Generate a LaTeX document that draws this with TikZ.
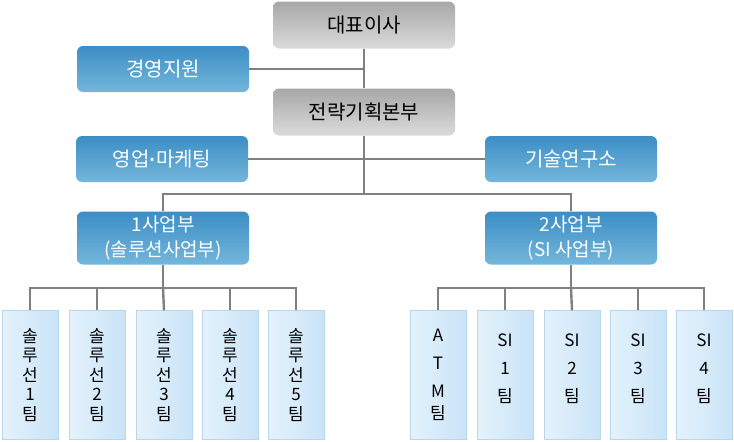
\documentclass[tikz,border=0pt]{standalone}
\usepackage{fontspec}
\setmainfont{Noto Sans CJK KR}
\newfontfamily\dotfont{Liberation Sans}
\definecolor{graytop}{HTML}{A7A7A7}
\definecolor{graybot}{HTML}{DBDBDB}
\definecolor{bluetop}{HTML}{3C8EC5}
\definecolor{bluebot}{HTML}{74B6DB}
\definecolor{teamleft}{HTML}{E4F2FC}
\definecolor{teamright}{HTML}{C9E4F7}
\definecolor{teamedge}{HTML}{B9D7EC}
\definecolor{wire}{HTML}{808080}
\tikzset{
  graybox/.style={rounded corners=6pt, top color=graytop, bottom color=graybot,
    minimum width=182pt, minimum height=47pt, font=\fontsize{20}{24}\selectfont},
  bluebox/.style={rounded corners=6pt, top color=bluetop, bottom color=bluebot, text=white,
    minimum width=172pt, minimum height=46pt, font=\fontsize{20}{24}\selectfont},
  divbox/.style={bluebox, minimum height=53pt, align=center, font=\fontsize{19}{25}\selectfont},
  teambox/.style={draw=teamedge, left color=teamleft, right color=teamright, align=center,
    minimum width=56pt, minimum height=129pt, inner sep=0pt, font=\fontsize{17}{19.5}\selectfont},
  siteam/.style={teambox, font=\fontsize{17}{28}\selectfont},
  wires/.style={draw=wire, line width=2.4pt}
}
\begin{document}
\begin{tikzpicture}[x=1pt, y=-1pt]
\useasboundingbox (0,0) rectangle (734,442);
\node[graybox] (ceo) at (364,25) {대표이사};
\node[bluebox] (mgmt) at (163,69) {경영지원};
\node[graybox] (plan) at (364,112) {전략기획본부};
\node[bluebox] (sales) at (162,159) {영업{\dotfont\bfseries ·}마케팅};
\node[bluebox] (lab) at (571,159) {기술연구소};
\node[divbox] (div1) at (163,238) {1사업부\\(솔루션사업부)};
\node[divbox] (div2) at (571,238) {2사업부\\(SI 사업부)};
\coordinate (hub) at (364,194);
\coordinate (bus1) at (163,288);
\coordinate (bus2) at (571,288);
% solution teams
\node[teambox] (sol1) at (30,375) {솔\\루\\선\\1\\팀};
\node[teambox] (sol2) at (97,375) {솔\\루\\선\\2\\팀};
\node[teambox] (sol3) at (164,375) {솔\\루\\선\\3\\팀};
\node[teambox] (sol4) at (230,375) {솔\\루\\선\\4\\팀};
\node[teambox] (sol5) at (296,375) {솔\\루\\선\\5\\팀};
% SI teams
\node[siteam] (atm) at (438,375) {A\\T\\M\\[-6pt]팀};
\node[siteam] (si1) at (505,375) {SI\\1\\팀\\[-14pt]~};
\node[siteam] (si2) at (572,375) {SI\\2\\팀\\[-14pt]~};
\node[siteam] (si3) at (638,375) {SI\\3\\팀\\[-14pt]~};
\node[siteam] (si4) at (704,375) {SI\\4\\팀\\[-14pt]~};
% connectors
\draw[wires] (ceo.south) -- (plan.north);
\draw[wires] (mgmt.east) -- (mgmt.east -| ceo.south);
\draw[wires] (plan.south) -- (hub);
\draw[wires] (sales.east) -- (lab.west);
\draw[wires] (div1.north) |- (hub) -| (div2.north);
\draw[wires] (div1.south) -- (bus1);
\draw[wires] (div2.south) -- (bus2);
\draw[wires] (sol1.north) |- (bus1);
\draw[wires] (sol2.north) |- (bus1);
\draw[wires] (sol3.north) -- (bus1);
\draw[wires] (sol4.north) |- (bus1);
\draw[wires] (sol5.north) |- (bus1);
\draw[wires] (atm.north) |- (bus2);
\draw[wires] (si1.north) |- (bus2);
\draw[wires] (si2.north) -- (bus2);
\draw[wires] (si3.north) |- (bus2);
\draw[wires] (si4.north) |- (bus2);
\end{tikzpicture}
\end{document}
